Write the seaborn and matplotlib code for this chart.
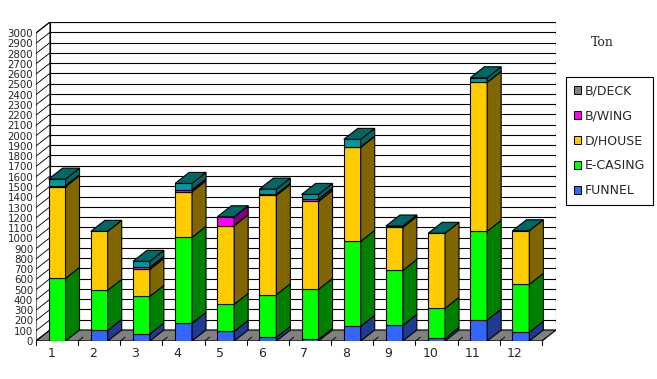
import matplotlib
matplotlib.use("Agg")
import matplotlib.pyplot as plt
from matplotlib.patches import Polygon, Patch
import seaborn as sns

months = [str(i) for i in range(1, 13)]
funnel = [0, 104, 68, 172, 94, 36, 16, 143, 153, 26, 204, 85]
e_casing = [610, 390, 367, 838, 263, 415, 487, 828, 535, 292, 864, 467]
d_house = [893, 574, 263, 444, 766, 968, 857, 915, 419, 731, 1451, 522]
b_wing = [10, 0, 19, 19, 87, 10, 23, 5, 13, 0, 0, 0]
b_deck = [64, 0, 59, 62, 0, 51, 45, 73, 0, 0, 45, 0]

series = ["FUNNEL", "E-CASING", "D/HOUSE", "B/WING", "B/DECK"]
values = [funnel, e_casing, d_house, b_wing, b_deck]
front = ["#3366FF", "#00FF00", "#FFCC00", "#FF00FF", "#009999"]
side = ["#1F3A8F", "#008000", "#806600", "#800080", "#006666"]
legend_col = {"FUNNEL": "#3366FF", "E-CASING": "#00FF00", "D/HOUSE": "#FFCC00",
              "B/WING": "#FF00FF", "B/DECK": "#808080"}

sns.set_style("white")
plt.rcParams["font.family"] = ["DejaVu Sans"]

W = 0.40        # bar width (category units)
DX = 0.3325     # depth offset in x
DY = 107        # depth offset in y (value units)
YMAX = 3000
LW = 0.8

fig = plt.figure(figsize=(6.57, 3.79), dpi=100)
ax = fig.add_axes([36 / 657, 38 / 379, 520 / 657, 319 / 379])
ax.set_xlim(0.5, 12.5 + DX)
ax.set_ylim(0, YMAX + DY)
for s in ax.spines.values():
    s.set_visible(False)

# walls and floor
left_wall = Polygon([(0.5, 0), (0.5 + DX, DY), (0.5 + DX, YMAX + DY), (0.5, YMAX)],
                    facecolor="white", edgecolor="black", lw=LW, zorder=1)
ax.add_patch(left_wall)
back_wall = Polygon([(0.5 + DX, DY), (12.5 + DX, DY), (12.5 + DX, YMAX + DY), (0.5 + DX, YMAX + DY)],
                    facecolor="white", edgecolor="black", lw=LW, zorder=1)
ax.add_patch(back_wall)
for v in range(0, YMAX + 1, 100):
    ax.plot([0.5 + DX, 12.5 + DX], [v + DY, v + DY], color="black", lw=LW, zorder=1.5)
    ax.plot([0.5, 0.5 + DX], [v, v + DY], color="black", lw=LW * 0.8, zorder=1.5)
floor = Polygon([(0.5, 0), (12.5, 0), (12.5 + DX, DY), (0.5 + DX, DY)],
                facecolor="#808080", edgecolor="black", lw=LW, zorder=2)
ax.add_patch(floor)
for k in range(13):
    ax.plot([k + 0.5, k + 0.5 + DX * 0.35], [0, DY * 0.35], color="black", lw=LW * 0.8, zorder=2.1)
    ax.plot([k + 0.5, k + 0.5], [0, -40], color="black", lw=LW, zorder=2.1, clip_on=False)
ax.plot([0.5, 12.5], [0, 0], color="black", lw=LW, zorder=2.2)

# stacked 3D columns
x = list(range(1, 13))
for i, c in enumerate(x):
    bottom = 0
    for vals, fc, sc in zip(values, front, side):
        h = vals[i]
        if h > 0:
            ax.bar(c, h, bottom=bottom, width=W, color=fc, edgecolor="black", lw=LW, zorder=3)
            r = c + W / 2
            ax.add_patch(Polygon([(r, bottom), (r + DX, bottom + DY), (r + DX, bottom + h + DY), (r, bottom + h)],
                                 facecolor=sc, edgecolor="black", lw=LW, zorder=3))
        bottom += h
    l, r = c - W / 2, c + W / 2
    ax.add_patch(Polygon([(l, bottom), (r, bottom), (r + DX, bottom + DY), (l + DX, bottom + DY)],
                         facecolor="#006666", edgecolor="black", lw=LW, zorder=3.1))

ax.set_yticks(range(0, YMAX + 1, 100))
ax.set_yticklabels([str(v) for v in range(0, YMAX + 1, 100)],
                   family=["Liberation Sans Narrow", "DejaVu Sans"], fontsize=7.4)
ax.set_xticks([c - 0.14 for c in x])
ax.set_xticklabels(months, fontsize=9)
ax.tick_params(axis="both", length=0)
ax.tick_params(axis="y", pad=2)
ax.tick_params(axis="x", pad=4)

handles = [Patch(facecolor=legend_col[n], edgecolor="black", lw=0.7) for n in series[::-1]]
leg = fig.legend(handles, series[::-1], loc="upper left", bbox_to_anchor=(566 / 657, 1 - 77 / 379),
                 fontsize=9, frameon=True, fancybox=False, framealpha=1, edgecolor="black",
                 handlelength=0.6, handleheight=0.6, handletextpad=0.3, labelspacing=0.95,
                 borderpad=0.6, borderaxespad=0)
leg.get_frame().set_linewidth(0.8)

fig.text(602 / 657, 1 - 43 / 379, "Ton", ha="center", va="center", family="DejaVu Serif", fontsize=9)

fig.savefig("out.png", dpi=100)
